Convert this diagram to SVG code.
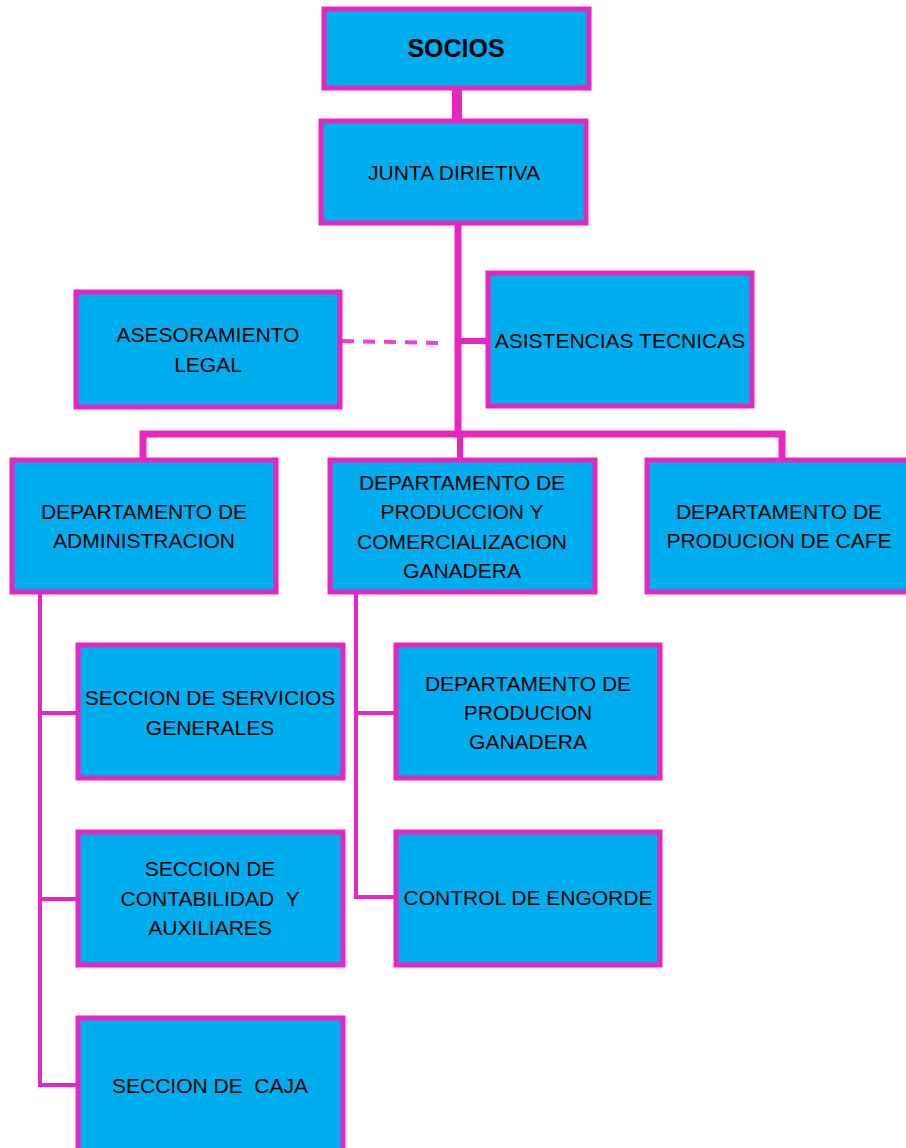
<svg xmlns="http://www.w3.org/2000/svg" width="906" height="1148" viewBox="0 0 906 1148">
<style>
.box{fill:#00AEEF;stroke:#E626BE;stroke-width:5;}
.ln{stroke:#E626BE;stroke-width:5;fill:none;stroke-linecap:square;}
.t{font-family:"Liberation Sans","Open Sans",sans-serif;font-size:21px;fill:#000;text-anchor:middle;dominant-baseline:central;}
</style>
<rect width="906" height="1148" fill="#fff"/>
<g id="connectors">
<line class="ln" x1="457" y1="88" x2="457" y2="121" style="stroke-width:10"/>
<line class="ln" x1="458" y1="223" x2="458" y2="434" style="stroke-width:7"/>
<line class="ln" x1="458" y1="341" x2="488" y2="341" style="stroke-width:6"/>
<line x1="342" y1="341" x2="444" y2="343" stroke="#F040D0" stroke-width="4" stroke-dasharray="12,9"/>
<polyline class="ln" points="143,460 143,434 782,434 782,460" style="stroke-width:7;stroke-linejoin:miter"/>
<line class="ln" x1="460" y1="434" x2="460" y2="460" style="stroke-width:6"/>
<polyline class="ln" points="40,592 40,1085 78,1085" style="stroke-width:4"/>
<line class="ln" x1="40" y1="713" x2="78" y2="713" style="stroke-width:4"/>
<line class="ln" x1="40" y1="899" x2="78" y2="899" style="stroke-width:4"/>
<polyline class="ln" points="356,592 356,897 396,897" style="stroke-width:4"/>
<line class="ln" x1="356" y1="713" x2="396" y2="713" style="stroke-width:4"/>
</g>
<g id="socios"><rect class="box" x="324" y="9" width="265" height="79"/><text class="t" x="456" y="48" style="font-weight:bold;font-size:25px">SOCIOS</text></g>
<g id="junta"><rect class="box" x="321" y="121" width="265" height="102"/><text class="t" x="454" y="172">JUNTA DIRIETIVA</text></g>
<g id="asesoramiento"><rect class="box" x="76" y="292" width="264" height="115"/><text class="t" x="208" y="334">ASESORAMIENTO</text><text class="t" x="208" y="364">LEGAL</text></g>
<g id="asistencias"><rect class="box" x="488" y="273" width="264" height="133"/><text class="t" x="620" y="340">ASISTENCIAS TECNICAS</text></g>
<g id="dep-admin"><rect class="box" x="12" y="460" width="264" height="132"/><text class="t" x="144" y="511">DEPARTAMENTO DE</text><text class="t" x="144" y="540">ADMINISTRACION</text></g>
<g id="dep-prod-com"><rect class="box" x="330" y="460" width="265" height="132"/><text class="t" x="462" y="482">DEPARTAMENTO DE</text><text class="t" x="462" y="511">PRODUCCION Y</text><text class="t" x="462" y="541">COMERCIALIZACION</text><text class="t" x="462" y="570">GANADERA</text></g>
<g id="dep-cafe"><rect class="box" x="647" y="460" width="264" height="132"/><text class="t" x="779" y="511">DEPARTAMENTO DE</text><text class="t" x="779" y="540">PRODUCION DE CAFE</text></g>
<g id="servicios"><rect class="box" x="78" y="645" width="265" height="133"/><text class="t" x="210" y="697">SECCION DE SERVICIOS</text><text class="t" x="210" y="727">GENERALES</text></g>
<g id="prod-ganadera"><rect class="box" x="396" y="645" width="264" height="133"/><text class="t" x="528" y="683">DEPARTAMENTO DE</text><text class="t" x="528" y="712">PRODUCION</text><text class="t" x="528" y="741">GANADERA</text></g>
<g id="contabilidad"><rect class="box" x="78" y="832" width="265" height="133"/><text class="t" x="210" y="868">SECCION DE</text><text class="t" x="210" y="898" xml:space="preserve">CONTABILIDAD  Y</text><text class="t" x="210" y="927">AUXILIARES</text></g>
<g id="engorde"><rect class="box" x="396" y="832" width="264" height="133"/><text class="t" x="528" y="897">CONTROL DE ENGORDE</text></g>
<g id="caja"><rect class="box" x="78" y="1018" width="265" height="140"/><text class="t" x="210" y="1085" xml:space="preserve">SECCION DE  CAJA</text></g>
</svg>
